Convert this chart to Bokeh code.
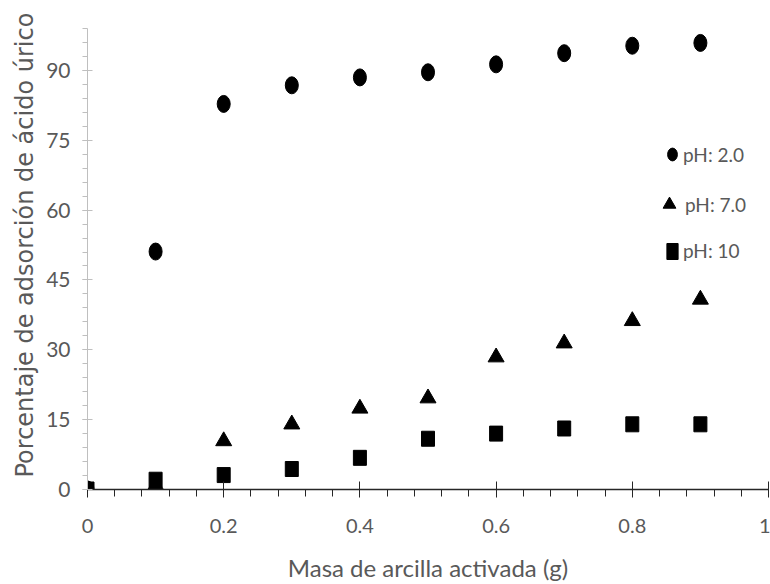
from bokeh.plotting import figure
from bokeh.models import (Range1d, SingleIntervalTicker, NumeralTickFormatter,
                          Legend, LegendItem, Title)
from bokeh.embed import file_html
from bokeh.resources import INLINE

# Activated clay mass (g) and uric-acid adsorption (%) at three pH values
mass = [0.0, 0.1, 0.2, 0.3, 0.4, 0.5, 0.6, 0.7, 0.8, 0.9]
ads_ph2 = [0.0, 51.1, 82.8, 86.8, 88.5, 89.6, 91.3, 93.7, 95.3, 95.9]
ads_ph7 = [0.0, 0.9, 10.4, 14.0, 17.4, 19.6, 28.4, 31.4, 36.2, 40.8]
ads_ph10 = [0.0, 2.1, 3.1, 4.4, 6.8, 10.9, 12.0, 13.1, 14.0, 14.0]

series_labels = ["pH: 2.0", "pH: 7.0", "pH: 10"]
x_title = "Masa de arcilla activada (g)"
y_title = "Porcentaje de adsorción de  ácido úrico"

NARROW = "'Liberation Sans Narrow', Lato, sans-serif"
GREY_TEXT = "#595959"

p = figure(width=770, height=584,
           x_range=Range1d(0, 1.0), y_range=Range1d(0, 99),
           output_backend="svg", toolbar_location=None,
           min_border_left=87, min_border_right=2,
           min_border_top=28, min_border_bottom=94)
p.outline_line_color = None
p.grid.visible = False
p.background_fill_color = "white"

r_ph2 = p.ellipse(mass, ads_ph2, width=13, height=17,
                  width_units="screen", height_units="screen",
                  fill_color="black", line_color="black")
r_ph7 = p.scatter(mass, ads_ph7, marker="triangle", size=16,
                  fill_color="black", line_color="black")
r_ph10 = p.rect(mass, ads_ph10, width=13, height=15,
                width_units="screen", height_units="screen",
                fill_color="black", line_color="black")

# x axis: dark rule along y = 0
xa = p.xaxis[0]
xa.ticker = SingleIntervalTicker(interval=0.2, num_minor_ticks=5)
xa.formatter = NumeralTickFormatter(format="0.[0]")
xa.axis_line_color = "#262626"
xa.axis_line_width = 1.5
xa.major_tick_line_color = "#262626"
xa.minor_tick_line_color = "#262626"
xa.major_tick_in = 8
xa.major_tick_out = 8
xa.minor_tick_in = 0
xa.minor_tick_out = 7
xa.major_label_standoff = 21
xa.major_label_text_font = NARROW
xa.major_label_text_font_size = "20px"
xa.major_label_text_color = GREY_TEXT
xa.axis_label = x_title
xa.axis_label_text_font = NARROW
xa.axis_label_text_font_size = "24px"
xa.axis_label_text_font_style = "normal"
xa.axis_label_text_color = GREY_TEXT
xa.axis_label_standoff = 17

# y axis: light grey rule along x = 0
ya = p.yaxis[0]
ya.ticker = SingleIntervalTicker(interval=15, num_minor_ticks=5)
ya.axis_line_color = "#bfbfbf"
ya.major_tick_line_color = "#bfbfbf"
ya.minor_tick_line_color = "#bfbfbf"
ya.major_tick_in = 5
ya.major_tick_out = 5
ya.minor_tick_in = 0
ya.minor_tick_out = 5
ya.major_label_standoff = 12
ya.major_label_text_font = NARROW
ya.major_label_text_font_size = "21px"
ya.major_label_text_color = GREY_TEXT

# vertical title, anchored near the bottom of the frame
p.add_layout(Title(text=y_title, align="left", offset=12, standoff=10,
                   text_font="DejaVu Sans", text_font_size="24px",
                   text_font_style="normal", text_color=GREY_TEXT), "left")


def legend_for(label, renderer, box_w, box_h, center_x, center_y, standoff):
    # one legend block per series so each key glyph can be sized on its own
    frame_bottom = 584 - 94
    return Legend(
        items=[LegendItem(label=label, renderers=[renderer])],
        location=(center_x - box_w / 2 - 87, frame_bottom - center_y - box_h / 2),
        glyph_width=box_w, glyph_height=box_h, label_height=20,
        label_standoff=standoff, padding=0, margin=0,
        label_text_font=NARROW, label_text_font_size="19px",
        label_text_color=GREY_TEXT,
        border_line_color=None, background_fill_alpha=0,
    )


p.add_layout(legend_for(series_labels[0], r_ph2, 16, 24, 672, 155, 3))
p.add_layout(legend_for(series_labels[1], r_ph7, 32, 32, 669, 205, 0))
p.add_layout(legend_for(series_labels[2], r_ph10, 14, 20, 672, 253, 4))

open("out.html", "w").write(file_html(p, INLINE))
